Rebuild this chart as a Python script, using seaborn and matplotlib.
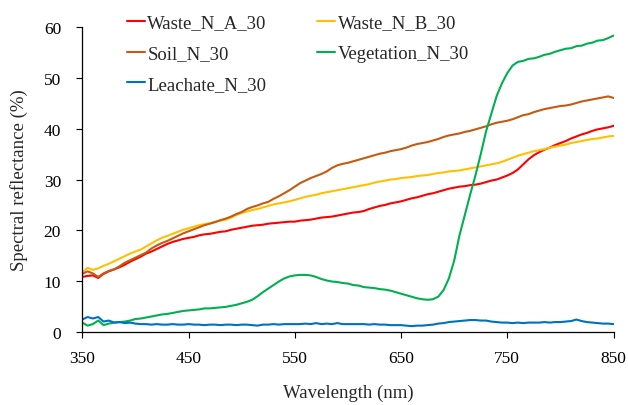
import matplotlib
matplotlib.use("Agg")
import matplotlib.pyplot as plt
import numpy as np
import pandas as pd
import seaborn as sns

# wavelength grid (nm), 5 nm steps
wavelength = list(range(350, 851, 5))

waste_a = [10.8, 11.0, 11.1, 10.6, 11.4, 11.9, 12.3, 12.7, 13.2, 13.8,
           14.3, 14.8, 15.4, 15.8, 16.3, 16.8, 17.3, 17.7, 18.0, 18.3,
           18.5, 18.7, 19.0, 19.2, 19.3, 19.5, 19.7, 19.8, 20.1, 20.3,
           20.5, 20.7, 20.9, 21.0, 21.1, 21.3, 21.4, 21.5, 21.6, 21.7,
           21.7, 21.9, 22.0, 22.1, 22.3, 22.5, 22.6, 22.7, 22.9, 23.1,
           23.3, 23.5, 23.6, 23.8, 24.2, 24.5, 24.8, 25.0, 25.3, 25.5,
           25.7, 26.0, 26.3, 26.5, 26.8, 27.1, 27.3, 27.6, 27.9, 28.2,
           28.4, 28.6, 28.7, 28.9, 29.0, 29.2, 29.5, 29.8, 30.0, 30.4,
           30.8, 31.3, 32.0, 33.0, 34.0, 34.8, 35.4, 35.9, 36.3, 36.8,
           37.2, 37.6, 38.1, 38.5, 38.9, 39.2, 39.6, 39.9, 40.1, 40.3,
           40.6]

waste_b = [11.7, 12.6, 12.2, 12.5, 13.0, 13.4, 13.9, 14.4, 14.9, 15.4,
           15.8, 16.2, 16.8, 17.4, 18.0, 18.5, 18.9, 19.3, 19.7, 20.1,
           20.4, 20.7, 21.0, 21.2, 21.4, 21.7, 21.9, 22.1, 22.5, 23.0,
           23.4, 23.7, 24.0, 24.2, 24.5, 24.8, 25.1, 25.3, 25.5, 25.7,
           26.0, 26.3, 26.6, 26.8, 27.0, 27.3, 27.5, 27.7, 27.9, 28.1,
           28.3, 28.5, 28.7, 28.9, 29.1, 29.4, 29.6, 29.8, 30.0, 30.1,
           30.3, 30.4, 30.5, 30.7, 30.8, 30.9, 31.1, 31.3, 31.4, 31.6,
           31.7, 31.8, 32.0, 32.2, 32.4, 32.6, 32.8, 33.0, 33.2, 33.5,
           33.9, 34.3, 34.7, 35.0, 35.3, 35.6, 35.8, 36.0, 36.3, 36.5,
           36.7, 36.9, 37.2, 37.4, 37.6, 37.8, 38.0, 38.1, 38.3, 38.5,
           38.6]

soil = [11.4, 11.9, 11.5, 10.8, 11.5, 12.0, 12.3, 12.9, 13.6, 14.1,
        14.6, 15.1, 15.6, 16.4, 17.0, 17.5, 17.9, 18.4, 18.9, 19.4,
        19.8, 20.2, 20.6, 21.0, 21.3, 21.6, 22.0, 22.3, 22.7, 23.2,
        23.6, 24.2, 24.6, 24.9, 25.3, 25.6, 26.2, 26.7, 27.3, 27.9,
        28.6, 29.3, 29.8, 30.3, 30.7, 31.1, 31.6, 32.3, 32.8, 33.1,
        33.3, 33.6, 33.9, 34.2, 34.5, 34.8, 35.1, 35.3, 35.6, 35.8,
        36.0, 36.3, 36.7, 37.0, 37.2, 37.4, 37.7, 38.0, 38.4, 38.7,
        38.9, 39.1, 39.4, 39.6, 39.9, 40.2, 40.5, 40.9, 41.2, 41.4,
        41.6, 41.9, 42.3, 42.7, 42.9, 43.3, 43.6, 43.9, 44.1, 44.3,
        44.5, 44.6, 44.8, 45.1, 45.4, 45.6, 45.8, 46.0, 46.2, 46.4,
        46.1]

vegetation = [1.8, 1.2, 1.5, 2.2, 1.3, 1.6, 1.8, 1.9, 2.0, 2.2,
              2.5, 2.6, 2.8, 3.0, 3.2, 3.4, 3.5, 3.7, 3.9, 4.1,
              4.2, 4.3, 4.4, 4.6, 4.6, 4.7, 4.8, 4.9, 5.1, 5.3,
              5.6, 5.9, 6.3, 7.0, 7.8, 8.5, 9.2, 9.9, 10.5, 10.9,
              11.1, 11.2, 11.2, 11.1, 10.8, 10.4, 10.1, 9.9, 9.8, 9.6,
              9.5, 9.2, 9.1, 8.8, 8.7, 8.6, 8.4, 8.3, 8.1, 7.8,
              7.5, 7.2, 6.9, 6.6, 6.4, 6.3, 6.4, 6.9, 8.2, 10.5,
              14.0, 19.0, 23.0, 27.0, 30.8, 35.0, 39.5, 43.0, 46.5, 49.0,
              51.0, 52.5, 53.2, 53.4, 53.8, 53.9, 54.2, 54.6, 54.8, 55.2,
              55.5, 55.8, 55.9, 56.3, 56.4, 56.8, 57.0, 57.4, 57.5, 57.9,
              58.4]

leachate = [2.4, 2.9, 2.6, 2.9, 2.0, 2.2, 1.8, 1.9, 1.7, 1.8,
            1.6, 1.5, 1.5, 1.4, 1.5, 1.4, 1.4, 1.5, 1.4, 1.4,
            1.5, 1.4, 1.4, 1.3, 1.4, 1.4, 1.3, 1.4, 1.4, 1.3,
            1.4, 1.4, 1.3, 1.2, 1.4, 1.4, 1.5, 1.4, 1.5, 1.5,
            1.5, 1.5, 1.6, 1.5, 1.7, 1.5, 1.6, 1.5, 1.7, 1.5,
            1.5, 1.5, 1.5, 1.5, 1.4, 1.5, 1.4, 1.4, 1.3, 1.3,
            1.3, 1.2, 1.1, 1.2, 1.2, 1.3, 1.4, 1.6, 1.7, 1.9,
            2.0, 2.1, 2.2, 2.3, 2.3, 2.2, 2.2, 2.0, 1.9, 1.8,
            1.8, 1.7, 1.8, 1.7, 1.8, 1.8, 1.8, 1.9, 1.8, 1.9,
            1.9, 2.0, 2.1, 2.4, 2.1, 1.9, 1.8, 1.7, 1.6, 1.6,
            1.5]

series_names = ['Waste_N_A_30', 'Waste_N_B_30', 'Soil_N_30', 'Vegetation_N_30', 'Leachate_N_30']
series_colors = ['#FF0000', '#FFC000', '#C55A11', '#00B050', '#0070C0']

df = pd.DataFrame({'Wavelength': wavelength,
                   'Waste_N_A_30': waste_a,
                   'Waste_N_B_30': waste_b,
                   'Soil_N_30': soil,
                   'Vegetation_N_30': vegetation,
                   'Leachate_N_30': leachate})
long_df = df.melt(id_vars='Wavelength', var_name='Sample', value_name='Reflectance')

sns.set_style('ticks')
plt.rcParams['font.family'] = ['Liberation Serif', 'DejaVu Serif']

fig = plt.figure(figsize=(6.28, 4.06), dpi=100)
ax = fig.add_axes([0.131, 0.1805, 0.846, 0.7495])

sns.lineplot(data=long_df, x='Wavelength', y='Reflectance', hue='Sample',
             hue_order=series_names, palette=series_colors, linewidth=1.5,
             ax=ax, legend=True)

ax.set_xlim(350, 850)
ax.set_ylim(0, 60)
ax.set_xticks(np.arange(350, 851, 100))
ax.set_yticks(np.arange(0, 61, 10))
ax.tick_params(axis='both', direction='out', length=4.3, width=0.8,
               labelsize=12.5, colors='black')
ax.tick_params(axis='y', pad=11)
ax.tick_params(axis='x', pad=9)
for side in ['left', 'bottom']:
    ax.spines[side].set_linewidth(0.9)
    ax.spines[side].set_color('black')
sns.despine(ax=ax)

ax.set_xlabel('Wavelength (nm)', fontsize=13.5)
ax.set_ylabel('Spectral reflectance (%)', fontsize=13.5)
ax.xaxis.set_label_coords(0.5, -0.172)
ax.yaxis.set_label_coords(-0.103, 0.5)

# legend order: column-major fill -> A, Soil, Leachate | B, Vegetation
handles, labels = ax.get_legend_handles_labels()
lookup = dict(zip(labels, handles))
order = ['Waste_N_A_30', 'Soil_N_30', 'Leachate_N_30', 'Waste_N_B_30', 'Vegetation_N_30']
ax.legend([lookup[k] for k in order], order, ncol=2, frameon=False,
          loc='upper left', bbox_to_anchor=(0.202, 0.962), bbox_transform=fig.transFigure,
          fontsize=13.5, handlelength=0.97, handletextpad=0.12,
          columnspacing=2.7, labelspacing=0.72, borderaxespad=0, borderpad=0)

fig.savefig('out.png', dpi=100)
plt.close(fig)
